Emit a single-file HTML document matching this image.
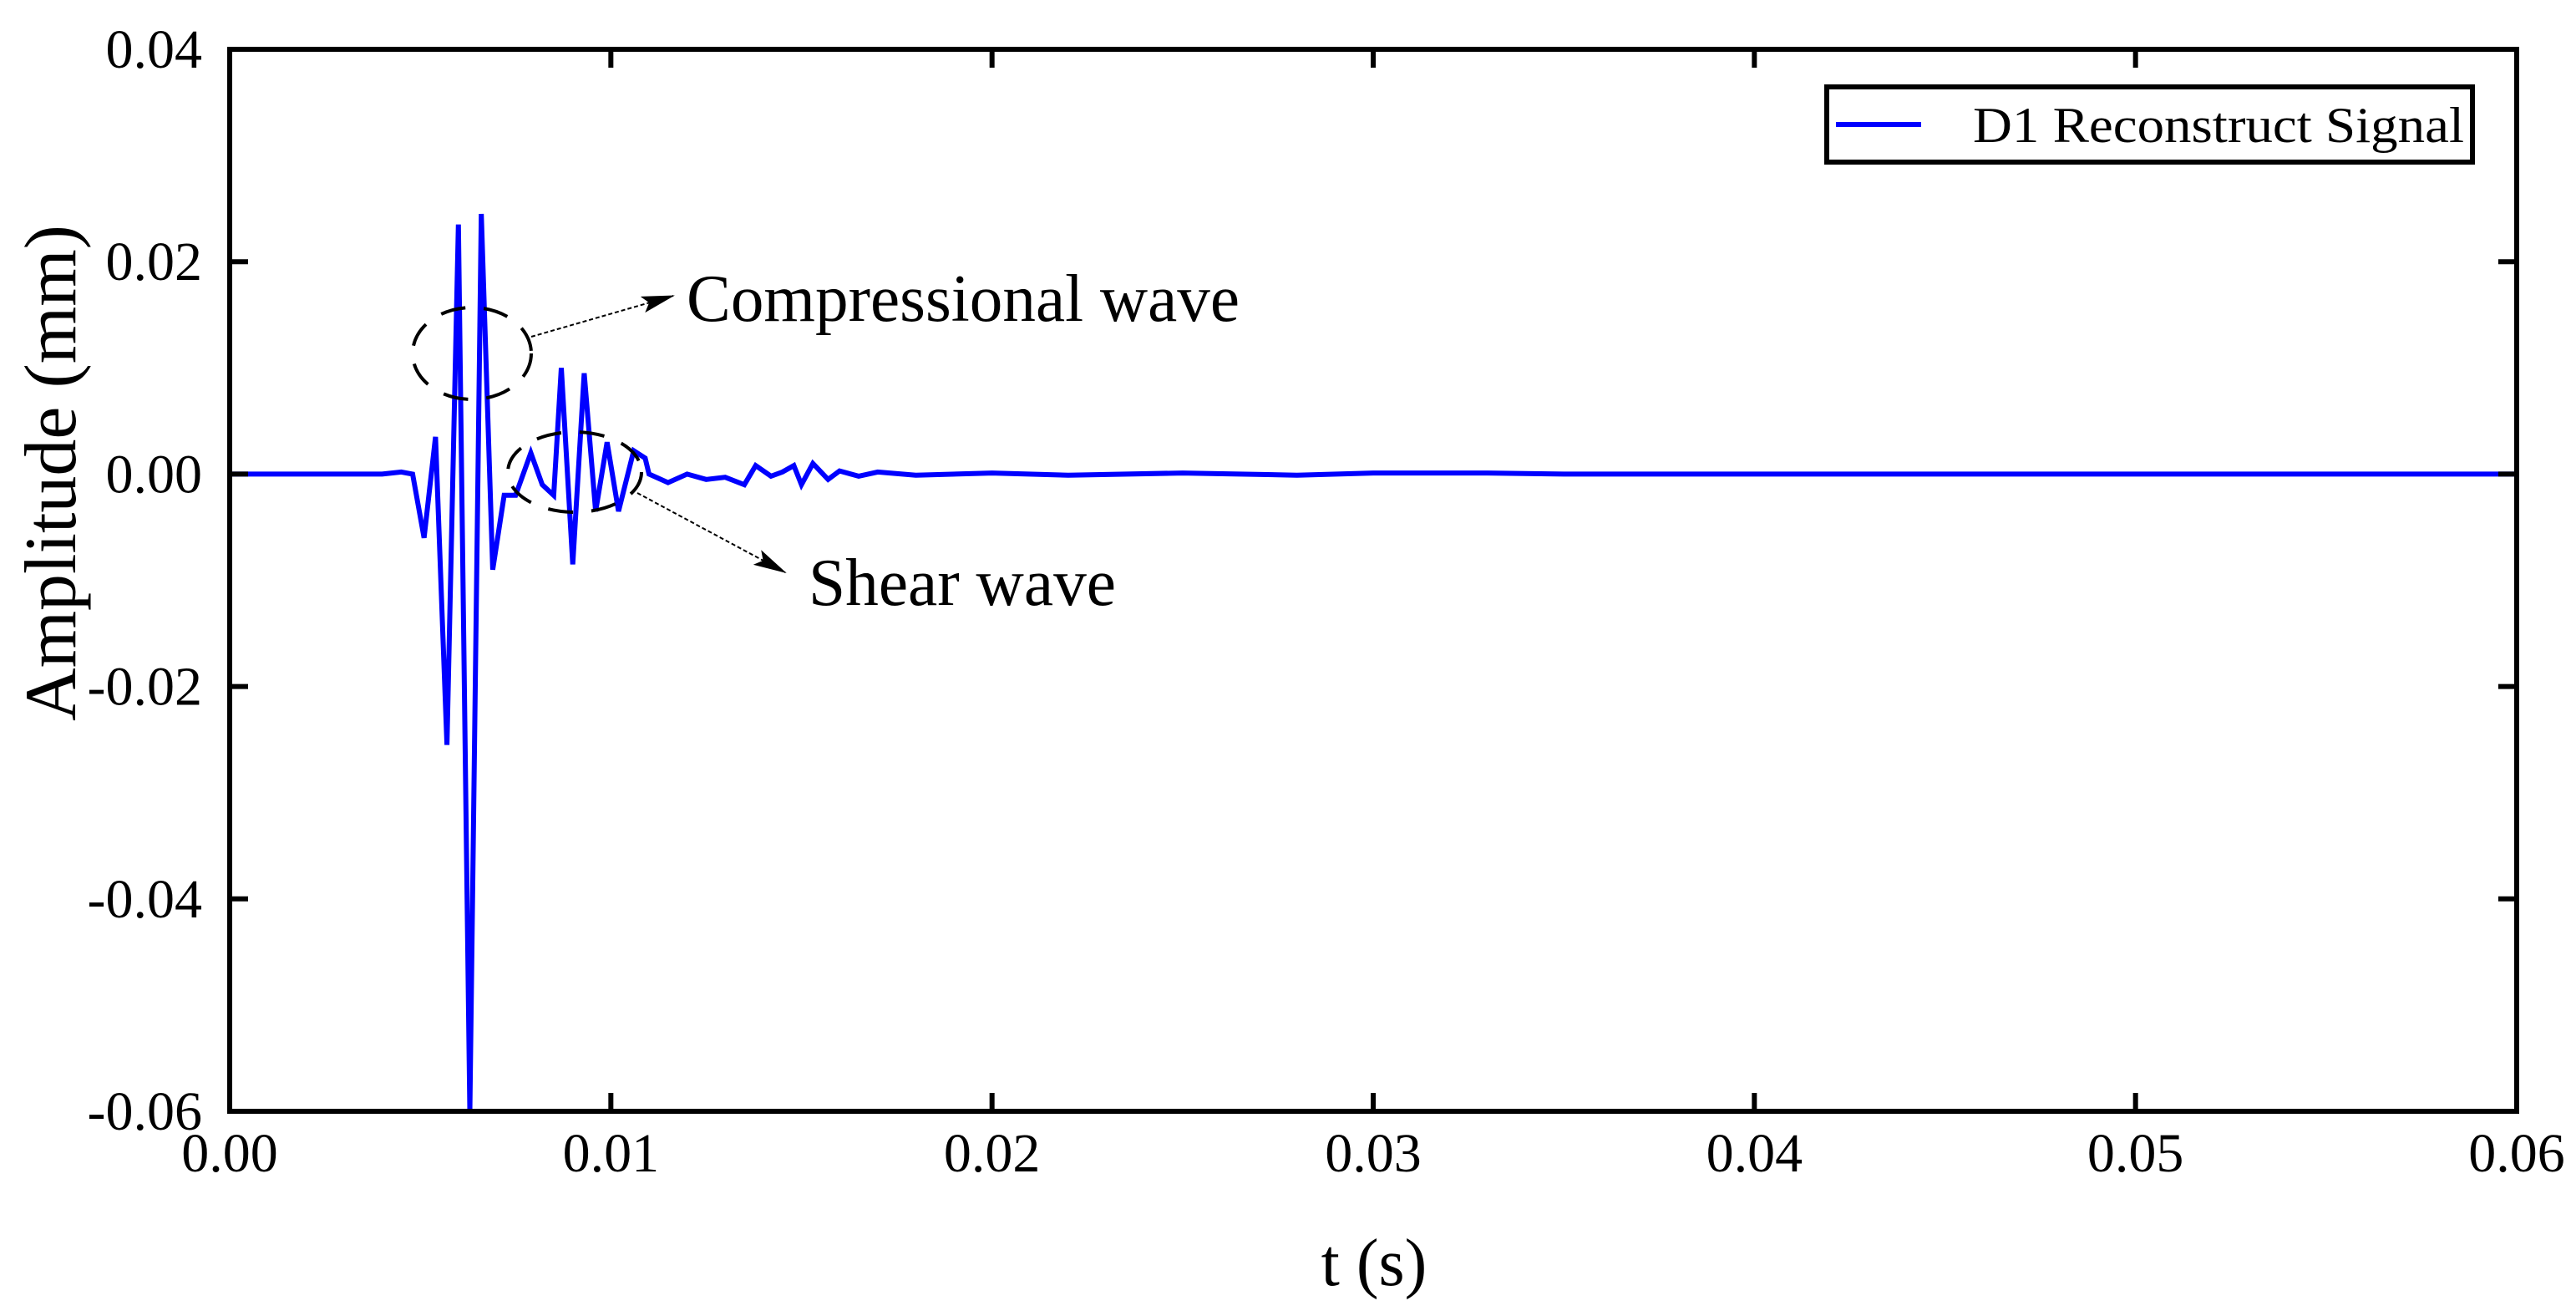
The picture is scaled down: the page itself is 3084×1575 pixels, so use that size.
<!DOCTYPE html>
<html><head><meta charset="utf-8"><style>
html,body{margin:0;padding:0;background:#fff;}
svg{display:block;font-family:"Liberation Serif",serif;}
</style></head><body>
<svg id="chart" width="3084" height="1575" viewBox="0 0 3084 1575">
<g id="plot"></g>
</svg>
<script>
const tValues=[0,0.004,0.0045,0.0048,0.0051,0.0054,0.0057,0.006,0.0063,0.0066,0.0069,0.0072,0.0075,0.0079,0.0082,0.0085,0.0087,0.009,0.0093,0.0096,0.0099,0.0102,0.0106,0.0109,0.011,0.0115,0.012,0.0125,0.013,0.0135,0.0138,0.0142,0.0145,0.0148,0.015,0.0153,0.0157,0.016,0.0165,0.017,0.018,0.02,0.022,0.025,0.028,0.03,0.033,0.035,0.06];
const ampValues=[0,0,0.0002,0,-0.006,0.0035,-0.0255,0.0235,-0.06,0.0245,-0.009,-0.002,-0.002,0.002,-0.001,-0.002,0.01,-0.0085,0.0095,-0.0035,0.003,-0.0035,0.0022,0.0015,0,-0.0008,0,-0.0005,-0.0003,-0.001,0.0008,-0.0002,0.0002,0.0008,-0.001,0.001,-0.0005,0.0003,-0.0002,0.0002,-0.0001,0.0001,-0.0001,0.0001,-0.0001,0.0001,0.0001,0,0];
const xTicks=[0,0.01,0.02,0.03,0.04,0.05,0.06];
const xTickLabels=["0.00","0.01","0.02","0.03","0.04","0.05","0.06"];
const yTicks=[0.04,0.02,0,-0.02,-0.04,-0.06];
const yTickLabels=["0.04","0.02","0.00","-0.02","-0.04","-0.06"];

const L=275,R=3013,T=59,B=1330;
const xs=v=>L+(v-0)/(0.06-0)*(R-L);
const ys=v=>B-(v-(-0.06))/(0.04-(-0.06))*(B-T);
const NS="http://www.w3.org/2000/svg";
const g=document.getElementById('plot');
function mk(tag,attrs,parent){const e=document.createElementNS(NS,tag);for(const k in attrs)e.setAttribute(k,attrs[k]);(parent||g).appendChild(e);return e;}

let d=tValues.map((t,i)=>(i?'L':'M')+xs(t).toFixed(1)+','+ys(ampValues[i]).toFixed(1)).join(' ');
const line=mk('path',{d:d,fill:'none',stroke:'#0000ff','stroke-width':6,'stroke-linejoin':'miter'});



xTicks.forEach((v,i)=>{
  const x=xs(v);
  const t1=mk('line',{x1:x,y1:B,x2:x,y2:B-22,stroke:'#000','stroke-width':6});
  
  
  const t2=mk('line',{x1:x,y1:T,x2:x,y2:T+22,stroke:'#000','stroke-width':6});
  
  
  const lb=mk('text',{x:x,y:1402,'font-size':66,'text-anchor':'middle'});
  lb.textContent=xTickLabels[i];
  
  
});
yTicks.forEach((v,i)=>{
  const y=ys(v);
  const t1=mk('line',{x1:L,y1:y,x2:L+22,y2:y,stroke:'#000','stroke-width':6});
  
  
  const t2=mk('line',{x1:R,y1:y,x2:R-22,y2:y,stroke:'#000','stroke-width':6});
  
  
  const lb=mk('text',{x:242,y:y+22,'font-size':66,'text-anchor':'end'});
  lb.textContent=yTickLabels[i];
  
  
});
</script>
<svg width="3084" height="1575" viewBox="0 0 3084 1575" style="position:absolute;left:0;top:0;font-family:'Liberation Serif',serif">
<defs><marker id="ah2" markerWidth="40" markerHeight="20" refX="38" refY="10" orient="auto" markerUnits="userSpaceOnUse"><path d="M0,0 L40,10 L0,20 L8,10 z" fill="#000"/></marker></defs>
<rect x="275" y="59" width="2738" height="1271" fill="none" stroke="#000" stroke-width="6"/>
<g>
<rect x="2187" y="104" width="773" height="90" fill="#fff" stroke="#000" stroke-width="6"/>
<line x1="2198" y1="149" x2="2300" y2="149" stroke="#0000ff" stroke-width="6"/>
<text x="2362" y="170" font-size="60" textLength="588" lengthAdjust="spacingAndGlyphs">D1 Reconstruct Signal</text>
</g>
<ellipse cx="565" cy="423" rx="71" ry="55" fill="none" stroke="#000" stroke-width="4" stroke-dasharray="30,22"/>
<ellipse cx="688" cy="565" rx="80" ry="48" fill="none" stroke="#000" stroke-width="4" stroke-dasharray="30,22"/>
<line x1="636" y1="403" x2="806" y2="354" stroke="#000" stroke-width="2" stroke-dasharray="5,3" marker-end="url(#ah2)"/>
<line x1="763" y1="590" x2="940" y2="685" stroke="#000" stroke-width="2" stroke-dasharray="5,3" marker-end="url(#ah2)"/>
<text x="822" y="384" font-size="80" textLength="662" lengthAdjust="spacingAndGlyphs">Compressional wave</text>
<text x="968" y="724" font-size="80" textLength="368" lengthAdjust="spacingAndGlyphs">Shear wave</text>
<text x="1645" y="1538" font-size="80" text-anchor="middle">t (s)</text>
<text x="0" y="0" font-size="88" text-anchor="middle" transform="translate(90,566) rotate(-90)">Amplitude (mm)</text>
</svg>
</body></html>
